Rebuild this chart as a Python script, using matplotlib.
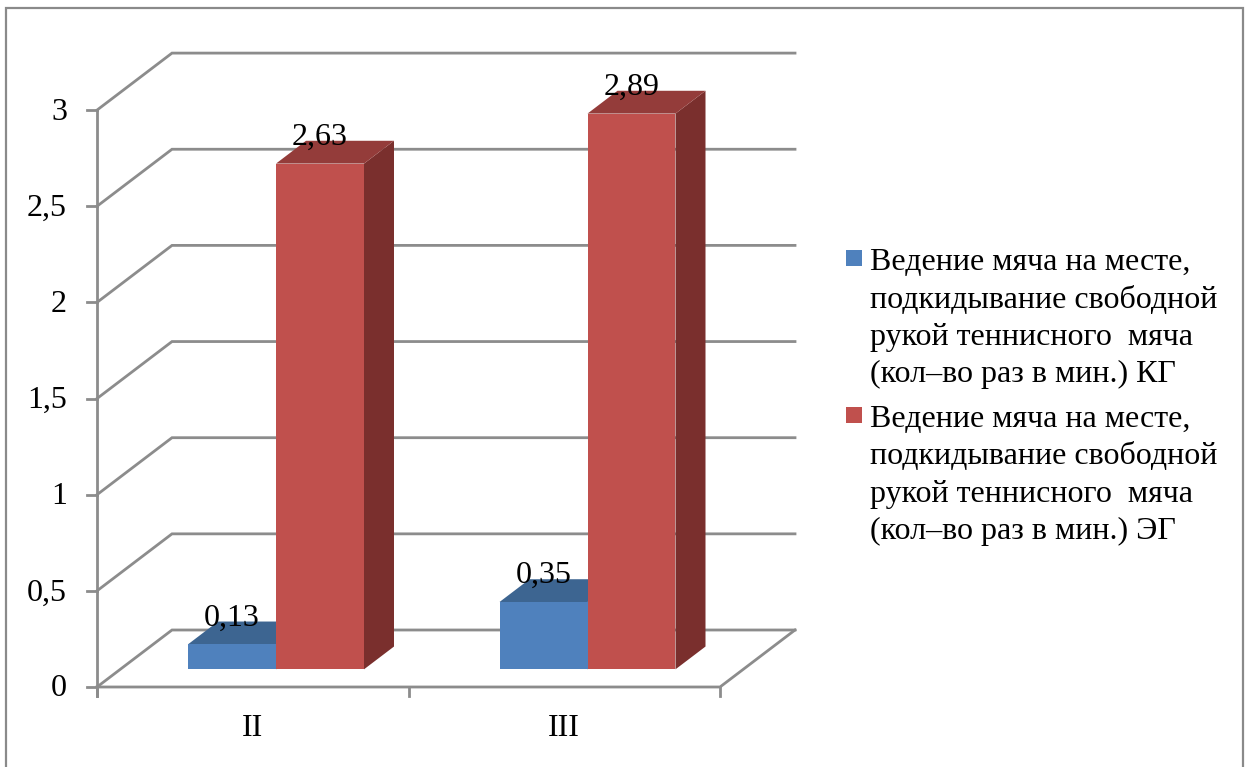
import matplotlib
matplotlib.use("Agg")
import matplotlib.pyplot as plt
from matplotlib.patches import Polygon, Rectangle
from matplotlib.lines import Line2D

# ---- data ----
categories = ["II", "III"]
series_kg = [0.13, 0.35]
series_eg = [2.63, 2.89]
series_labels = [
    "Ведение мяча на месте,\nподкидывание свободной\nрукой теннисного  мяча\n(кол–во раз в мин.) КГ",
    "Ведение мяча на месте,\nподкидывание свободной\nрукой теннисного  мяча\n(кол–во раз в мин.) ЭГ",
]
y_ticks = [0, 0.5, 1, 1.5, 2, 2.5, 3]
y_tick_labels = ["0", "0,5", "1", "1,5", "2", "2,5", "3"]

# ---- style ----
FONT = "Liberation Serif"
FS = 23
GRID = "#8c8c8c"
front_colors = ["#4f81bd", "#c0504d"]
top_colors = ["#3d6591", "#943c3a"]
side_colors = ["#33547a", "#7a2f2d"]

W, H, DPI = 1251, 767, 100
fig = plt.figure(figsize=(W / DPI, H / DPI), dpi=DPI)
fig.patch.set_facecolor("white")

# outer frame of the chart area
fig.add_artist(Rectangle((6 / W, -0.01), 1237 / W, (H - 8) / H + 0.01,
                         transform=fig.transFigure, fill=False,
                         edgecolor="#8a8a8a", linewidth=1.6))

# plot axes: x in category units, y in value units
ax = fig.add_axes([0, 0, 1, 1])
ax.set_axis_off()
px_per_cat = 311.5
px_per_val = 192.3
x_left_px, y0_px = 97, 80  # front-plane origin (pixels from left / bottom)
ax.set_xlim(-0.5 - x_left_px / px_per_cat, -0.5 + (W - x_left_px) / px_per_cat)
ax.set_ylim(-y0_px / px_per_val, (H - y0_px) / px_per_val)

# oblique depth vector (full depth of the chart box)
DX, DY = 75 / px_per_cat, 57 / px_per_val
XMIN, XMAX = -0.5, len(categories) - 0.5


def proj(x, v, d):
    return (x + d * DX, v + d * DY)


# back wall gridlines (incl. floor back edge)
for v in y_ticks:
    pts = [proj(XMIN, v, 0), proj(XMIN, v, 1), proj(XMAX, v, 1)]
    ax.add_line(Line2D([p[0] for p in pts], [p[1] for p in pts],
                       color=GRID, lw=2, zorder=1, solid_joinstyle="miter"))

# floor front and right edges
pts = [proj(XMIN, 0, 0), proj(XMAX, 0, 0), proj(XMAX, 0, 1)]
ax.add_line(Line2D([p[0] for p in pts], [p[1] for p in pts],
                   color=GRID, lw=2, zorder=1))

# vertical value axis with ticks
tick_len_x = 10 / px_per_cat
tick_len_y = 9 / px_per_val
ax.add_line(Line2D([XMIN, XMIN], [-tick_len_y, y_ticks[-1]], color=GRID, lw=2, zorder=2))
for v, lab in zip(y_ticks, y_tick_labels):
    ax.add_line(Line2D([XMIN - tick_len_x, XMIN], [v, v], color=GRID, lw=2, zorder=2))
    ax.text(XMIN - 30 / px_per_cat, v - 2 / px_per_val, lab, ha="right", va="center",
            fontsize=FS, family=FONT, color="black")

# category ticks and labels
for i in range(len(categories) + 1):
    x = XMIN + i
    ax.add_line(Line2D([x, x], [0, -tick_len_y], color=GRID, lw=2, zorder=2))
for i, cat in enumerate(categories):
    ax.text(i, -42 / px_per_val, cat, ha="center", va="center",
            fontsize=FS, family=FONT, color="black")

# 3-D bars
bar_w = 0.2825
d0, d1 = 0.31, 0.71
for i in range(len(categories)):
    for s, vals in enumerate([series_kg, series_eg]):
        v = vals[i]
        xa = i - bar_w + s * bar_w
        xb = xa + bar_w
        front = [proj(xa, 0, d0), proj(xb, 0, d0), proj(xb, v, d0), proj(xa, v, d0)]
        top = [proj(xa, v, d0), proj(xb, v, d0), proj(xb, v, d1), proj(xa, v, d1)]
        side = [proj(xb, 0, d0), proj(xb, 0, d1), proj(xb, v, d1), proj(xb, v, d0)]
        z = 3 + i * 2 + s
        ax.add_patch(Polygon(side, closed=True, fc=side_colors[s], ec="none", zorder=z))
        ax.add_patch(Polygon(top, closed=True, fc=top_colors[s], ec="none", zorder=z))
        ax.add_patch(Polygon(front, closed=True, fc=front_colors[s], ec="none", zorder=z))
        lx = proj(xa + bar_w / 2, v, d0)[0]
        ly = proj(xa + bar_w / 2, v, d1)[1]
        ax.text(lx, ly - 4 / px_per_val, f"{v:.2f}".replace(".", ","),
                ha="center", va="baseline", fontsize=FS, family=FONT,
                color="black", zorder=10)

# legend
line_step = 37.5
entry_top = [270, 427]
for s, label in enumerate(series_labels):
    base = entry_top[s]
    fig.add_artist(Rectangle((846 / W, 1 - (base - 4) / H), 16 / W, 16 / H,
                             transform=fig.transFigure, fc=front_colors[s], ec="none"))
    for k, line in enumerate(label.split("\n")):
        fig.text(870 / W, 1 - (base + k * line_step) / H, line, ha="left",
                 va="baseline", fontsize=FS, family=FONT, color="black")

fig.savefig("out.png", dpi=DPI, facecolor="white")
